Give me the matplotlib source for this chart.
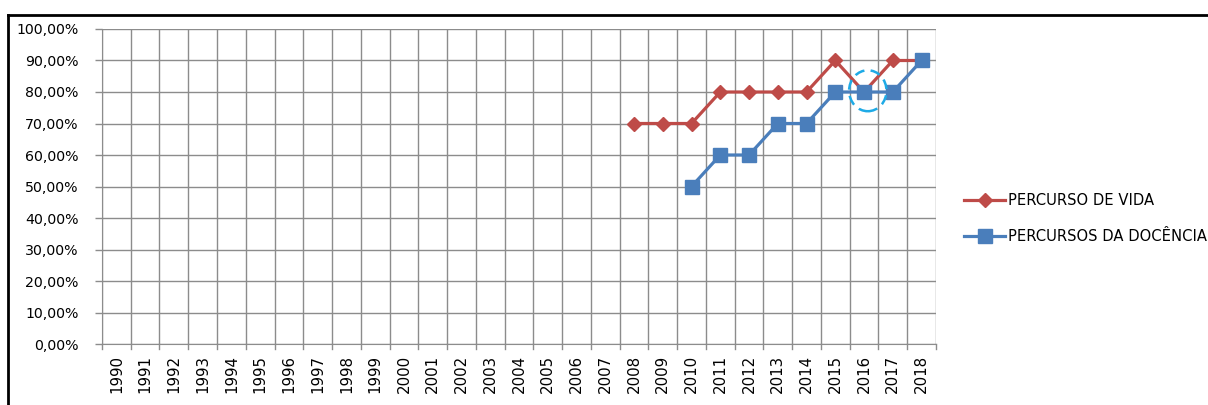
import matplotlib
matplotlib.use("Agg")
import matplotlib.pyplot as plt
from matplotlib.lines import Line2D
from matplotlib.patches import Ellipse
from matplotlib.ticker import FuncFormatter

years = [str(y) for y in range(1990, 2019)]
vida_years = ["2008", "2009", "2010", "2011", "2012", "2013", "2014", "2015", "2016", "2017", "2018"]
vida_values = [0.70, 0.70, 0.70, 0.80, 0.80, 0.80, 0.80, 0.90, 0.80, 0.90, 0.90]
docencia_years = ["2010", "2011", "2012", "2013", "2014", "2015", "2016", "2017", "2018"]
docencia_values = [0.50, 0.60, 0.60, 0.70, 0.70, 0.80, 0.80, 0.80, 0.90]
highlight_year = "2016"
highlight_value = 0.80

plt.rcParams["font.family"] = ["DejaVu Sans"]

fig = plt.figure(figsize=(12.08, 4.05), dpi=100)
fig.patch.set_facecolor("white")
ax = fig.add_axes([0.0844, 0.1506, 0.6904, 0.7778])

grid_col = "#8c8c8c"
red = "#BE4B48"
blue = "#4A7EBB"

vx = [years.index(y) for y in vida_years]
dx = [years.index(y) for y in docencia_years]

ax.plot(vx, vida_values, color=red, linewidth=2.3, marker="D", markersize=7.5,
        markerfacecolor=red, markeredgecolor=red, label="PERCURSO DE VIDA", zorder=3)
ax.plot(dx, docencia_values, color=blue, linewidth=2.3, marker="s", markersize=10,
        markerfacecolor=blue, markeredgecolor=blue, label="PERCURSOS DA DOCÊNCIA", zorder=4)

# dashed highlight circle
hx = years.index(highlight_year) + 0.13
ax.add_patch(Ellipse((hx, highlight_value + 0.004), 1.3, 0.13, fill=False,
                     edgecolor="#1EAAE6", linewidth=1.8, linestyle=(0, (4, 2.5)), zorder=5))

ax.set_xlim(-0.5, len(years) - 0.5)
ax.set_ylim(0, 1.0)
ax.set_yticks([i / 10 for i in range(11)])
ax.yaxis.set_major_formatter(FuncFormatter(lambda v, p: f"{v * 100:.2f}%".replace(".", ",")))
ax.set_xticks(range(len(years)))
ax.set_xticklabels(years, rotation=90)

# gridlines at category boundaries
for i in range(len(years) + 1):
    ax.axvline(i - 0.5, color=grid_col, linewidth=1, zorder=1)
ax.grid(axis="y", color=grid_col, linewidth=1, zorder=1)
ax.set_axisbelow(True)

for s in ["top", "right"]:
    ax.spines[s].set_visible(False)
for s in ["left", "bottom"]:
    ax.spines[s].set_color(grid_col)
ax.tick_params(axis="y", colors=grid_col, labelcolor="black", labelsize=10.2, length=5, width=1, pad=12)
ax.tick_params(axis="x", length=0, pad=8, labelsize=10.8, labelcolor="black")
# x ticks at boundaries
for i in range(len(years) + 1):
    ax.plot([i - 0.5, i - 0.5], [0, -0.016], color=grid_col, linewidth=1, clip_on=False)

ax.legend(loc="center left", bbox_to_anchor=(0.787, 0.46), bbox_transform=fig.transFigure,
          frameon=False, fontsize=10.6, handlelength=2.8, labelspacing=1.45, handletextpad=0.2)

# outer border (top and left)
fig.add_artist(Line2D([8 / 1208, 1.0], [1 - 15 / 405, 1 - 15 / 405], color="black", linewidth=2))
fig.add_artist(Line2D([8 / 1208, 8 / 1208], [0, 1 - 15 / 405], color="black", linewidth=2))

fig.savefig("out.png", dpi=100, facecolor="white")
